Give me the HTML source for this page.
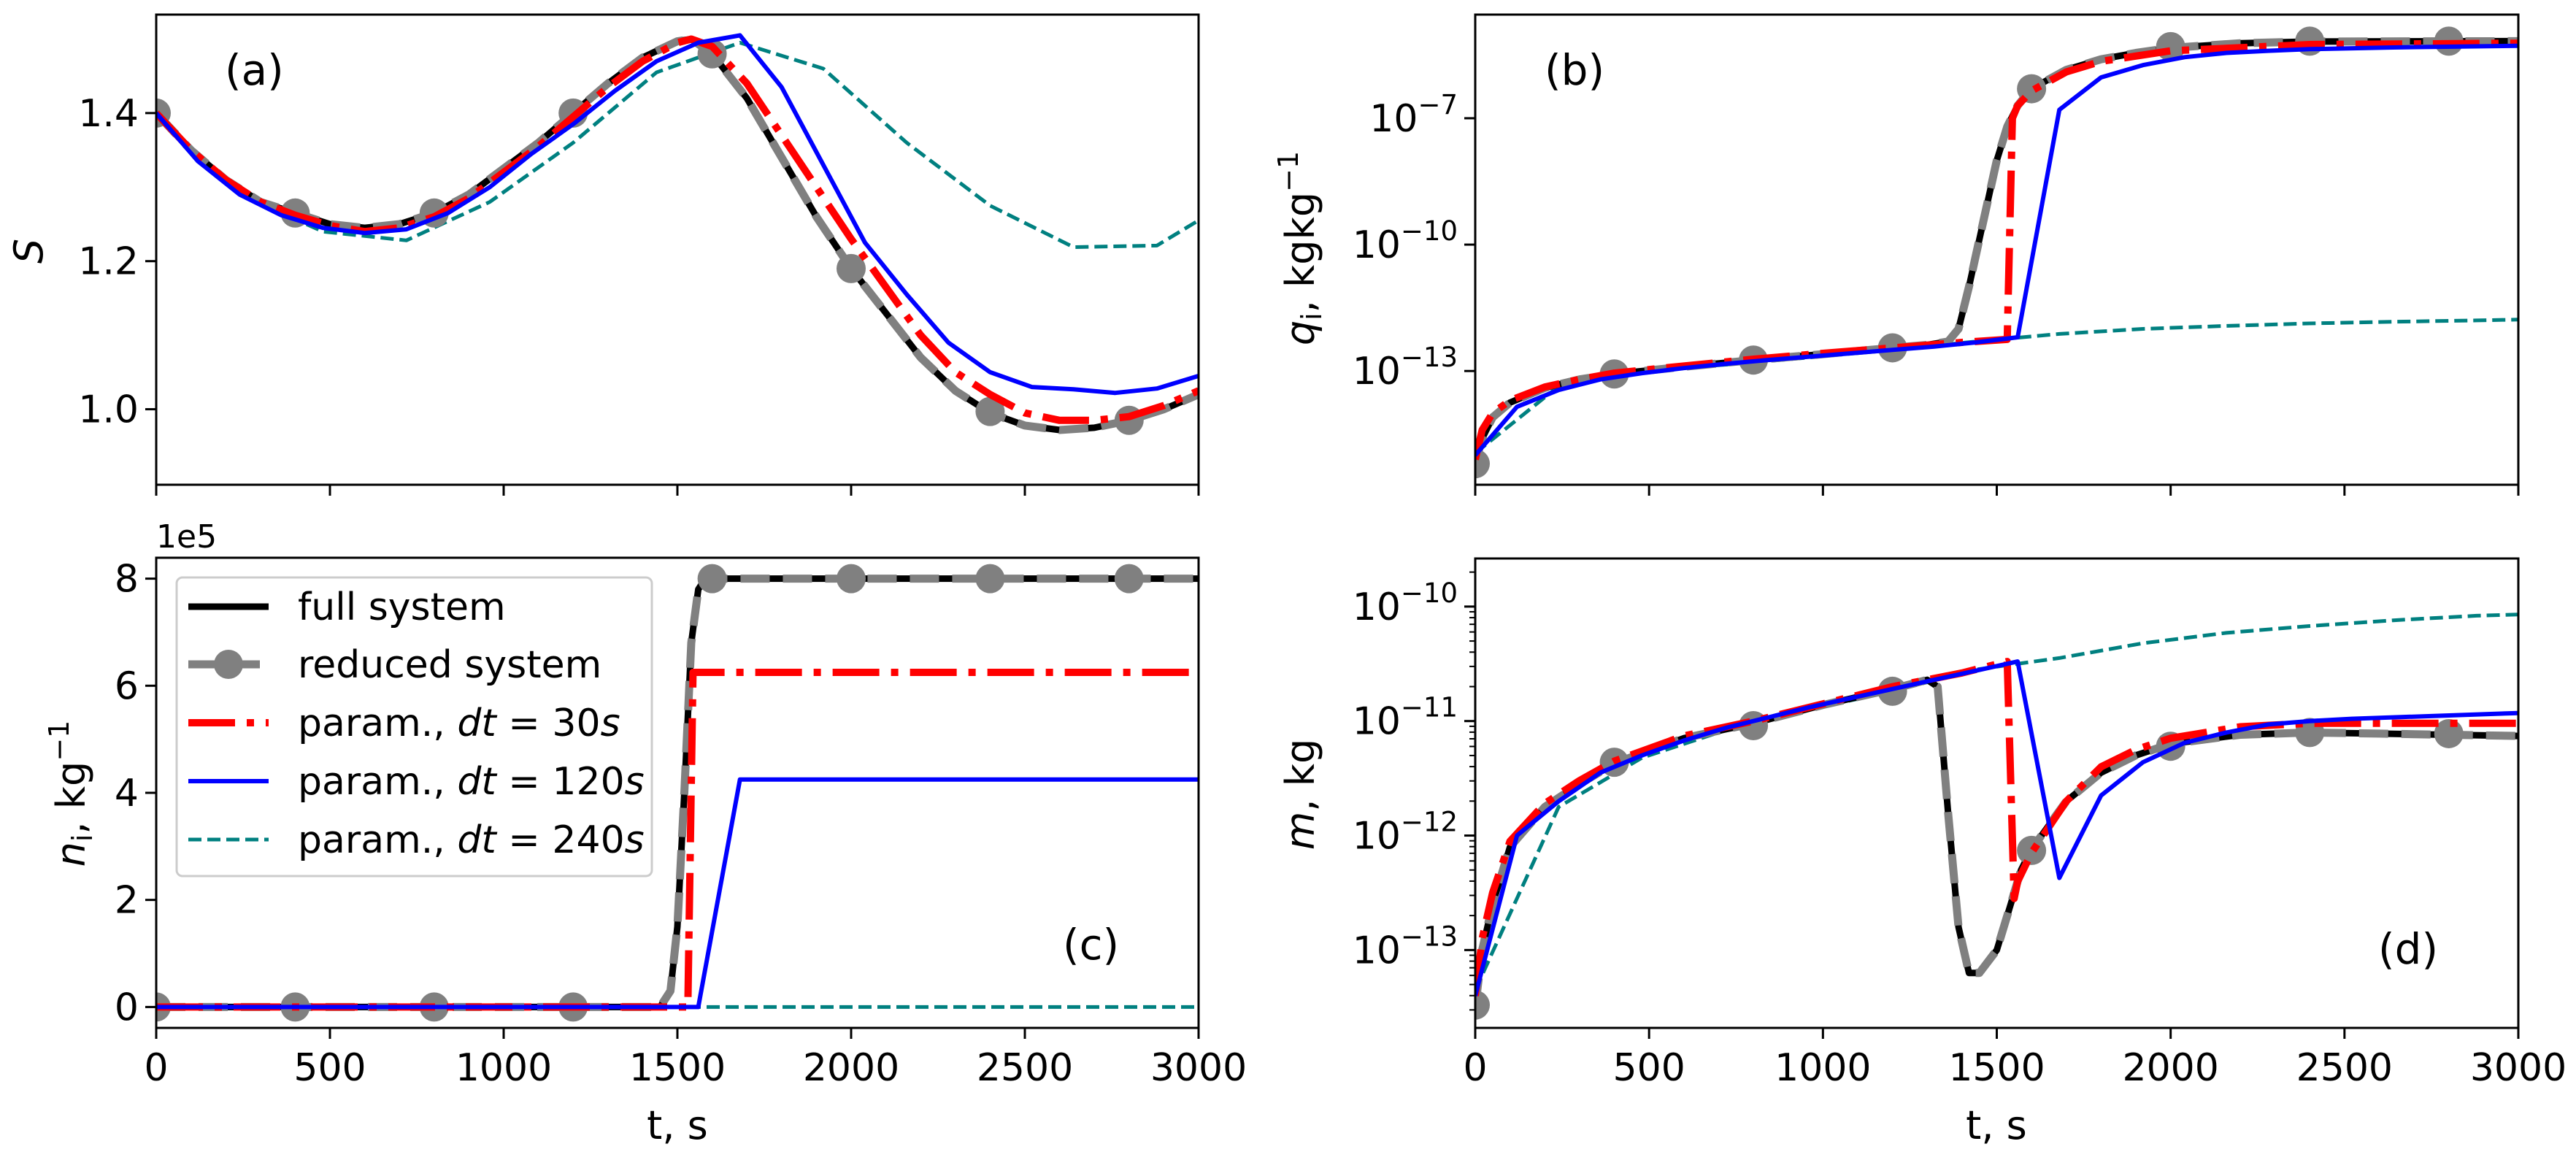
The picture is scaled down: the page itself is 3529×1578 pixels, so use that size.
<!DOCTYPE html>
<html><head><meta charset="utf-8">
<style>
html,body{margin:0;padding:0;background:#fff;}
svg{display:block;font-family:"DejaVu Sans","Liberation Sans",sans-serif;}
</style></head>
<body>
<svg id="fig" xmlns="http://www.w3.org/2000/svg" width="3529" height="1578" viewBox="0 0 3529 1578"></svg>
<script>
// ---------- data ----------
// Panel (a): S
const aFullT = [0,100,200,300,400,500,600,700,800,900,1000,1100,1200,1300,1400,1500,1540,1600,1700,1800,1900,2000,2100,2200,2300,2400,2500,2600,2700,2800,2900,3000];
const aFullV = [1.40,1.35,1.31,1.28,1.265,1.25,1.245,1.25,1.265,1.29,1.325,1.36,1.40,1.44,1.475,1.497,1.50,1.48,1.42,1.34,1.26,1.19,1.13,1.07,1.025,0.995,0.978,0.972,0.975,0.985,1.0,1.02];
const aRedT = [0,100,200,300,400,500,600,700,800,900,1000,1100,1200,1300,1400,1500,1540,1600,1700,1800,1900,2000,2100,2200,2300,2400,2500,2600,2700,2800,2900,3000];
const aRedV = [1.40,1.35,1.31,1.28,1.262,1.248,1.24,1.245,1.26,1.285,1.32,1.355,1.395,1.435,1.47,1.495,1.50,1.49,1.44,1.37,1.30,1.23,1.165,1.10,1.05,1.02,0.995,0.985,0.985,0.99,1.005,1.025];
const aBlueT = [0,120,240,360,480,600,720,840,960,1080,1200,1320,1440,1560,1680,1800,1920,2040,2160,2280,2400,2520,2640,2760,2880,3000];
const aBlueV = [1.40,1.335,1.29,1.262,1.245,1.238,1.243,1.265,1.30,1.345,1.385,1.43,1.47,1.495,1.505,1.435,1.33,1.225,1.155,1.09,1.05,1.03,1.027,1.022,1.028,1.045];
const aTealT = [0,240,480,720,960,1200,1440,1680,1920,2160,2400,2640,2880,3000];
const aTealV = [1.40,1.29,1.24,1.228,1.28,1.36,1.455,1.495,1.46,1.36,1.275,1.219,1.221,1.255];
const aMarkV = [1.40,1.265,1.265,1.40,1.48,1.19,0.997,0.985];
const markT = [0,400,800,1200,1600,2000,2400,2800];

// Panel (b): log10 q_i
const bFullT = [0,20,50,100,200,300,400,600,800,1000,1200,1300,1360,1390,1420,1460,1500,1530,1560,1600,1700,1800,1900,2000,2200,2400,3000];
const bFullV = [-15.2,-14.6,-14.1,-13.75,-13.4,-13.2,-13.07,-12.9,-12.74,-12.6,-12.45,-12.38,-12.3,-12.0,-11.0,-9.5,-8.0,-7.2,-6.7,-6.3,-5.85,-5.6,-5.45,-5.33,-5.22,-5.18,-5.17];
const bRedT = [0,20,50,100,200,300,400,600,800,1000,1200,1400,1530,1545,1560,1600,1700,1800,2000,2400,3000];
const bRedV = [-15.1,-14.4,-14.0,-13.7,-13.38,-13.2,-13.05,-12.88,-12.72,-12.58,-12.45,-12.32,-12.25,-7.0,-6.7,-6.35,-5.9,-5.65,-5.4,-5.25,-5.22];
const bBlueT = [0,120,240,360,480,600,720,840,960,1080,1200,1320,1440,1560,1680,1800,1920,2040,2160,2280,2400,2640,3000];
const bBlueV = [-15.0,-13.85,-13.45,-13.2,-13.05,-12.93,-12.83,-12.74,-12.66,-12.58,-12.5,-12.42,-12.32,-12.2,-6.8,-6.03,-5.74,-5.55,-5.45,-5.4,-5.36,-5.32,-5.28];
const bTealT = [0,240,480,720,960,1200,1440,1680,1920,2160,2400,2640,2880,3000];
const bTealV = [-14.95,-13.36,-13.0,-12.85,-12.68,-12.5,-12.3,-12.12,-12.0,-11.93,-11.87,-11.83,-11.8,-11.78];
const bMarkV = [-15.2,-13.07,-12.74,-12.45,-6.3,-5.3,-5.17,-5.17];

// Panel (c): n_i (units 1e5)
const cFullT = [0,1450,1480,1500,1520,1540,1560,1580,3000];
const cFullV = [0,0,0.3,1.5,4.0,6.8,7.8,8.0,8.0];
const cRedT = [0,1530,1545,3000];
const cRedV = [0,0,6.25,6.25];
const cBlueT = [0,1560,1680,3000];
const cBlueV = [0,0,4.25,4.25];
const cTealT = [0,3000];
const cTealV = [0,0];
const cMarkV = [0,0,0,0,8,8,8,8];

// Panel (d): log10 m
const dFullT = [0,20,50,100,200,300,400,600,800,1000,1200,1300,1330,1360,1390,1420,1450,1500,1540,1570,1600,1700,1800,1900,2000,2200,2400,2600,2800,3000];
const dFullV = [-13.5,-13.0,-12.6,-12.1,-11.75,-11.55,-11.37,-11.15,-11.02,-10.86,-10.72,-10.64,-10.7,-11.8,-12.8,-13.2,-13.2,-13.0,-12.6,-12.3,-12.12,-11.7,-11.45,-11.3,-11.2,-11.12,-11.1,-11.11,-11.12,-11.13];
const dRedT = [0,20,50,100,200,300,400,600,800,1000,1200,1400,1530,1550,1560,1600,1700,1800,1900,2000,2200,2400,3000];
const dRedV = [-13.4,-12.9,-12.5,-12.05,-11.72,-11.52,-11.35,-11.13,-11.0,-10.85,-10.7,-10.58,-10.48,-12.55,-12.4,-12.15,-11.7,-11.4,-11.25,-11.15,-11.05,-11.02,-11.02];
const dBlueT = [0,120,240,360,480,600,720,840,960,1080,1200,1320,1440,1560,1680,1800,1920,2040,2160,2280,2400,2520,3000];
const dBlueV = [-13.4,-12.0,-11.7,-11.45,-11.3,-11.17,-11.06,-10.97,-10.88,-10.8,-10.72,-10.64,-10.56,-10.48,-12.37,-11.65,-11.36,-11.19,-11.1,-11.03,-11.0,-10.98,-10.93];
const dTealT = [0,240,480,720,960,1200,1440,1680,1920,2160,2400,2640,2880,3000];
const dTealV = [-13.35,-11.75,-11.32,-11.08,-10.9,-10.74,-10.55,-10.45,-10.32,-10.23,-10.17,-10.12,-10.08,-10.07];
const dMarkV = [-13.48,-11.36,-11.04,-10.74,-12.13,-11.22,-11.1,-11.11];

const xTicks = [0,500,1000,1500,2000,2500,3000];
const aYTicks = [1.0,1.2,1.4];
const bYTicks = [-13,-10,-7];
const cYTicks = [0,2,4,6,8];
const dYTicks = [-13,-12,-11,-10];

// ---------- drawing ----------
const NS = "http://www.w3.org/2000/svg";
const svg = document.getElementById('fig');
function mk(tag, attrs, parent){
  const e = document.createElementNS(NS, tag);
  for (const k in attrs) e.setAttribute(k, attrs[k]);
  (parent||svg).appendChild(e); return e;
}
function panel(id, x0, x1, y0, y1, ymin, ymax){
  const g = mk('g', {});
  
  
  const clipId = 'clip-' + id;
  const cp = mk('clipPath', {id: clipId}, g);
  mk('rect', {x:x0, y:y0, width:x1-x0, height:y1-y0}, cp);
  const plot = mk('g', {'clip-path': 'url(#' + clipId + ')'}, g);
  
  
  return {g, plot, sx: t => x0 + (t/3000)*(x1-x0), sy: v => y1 - (v-ymin)/(ymax-ymin)*(y1-y0), x0, x1, y0, y1};
}
function line(P, T, V, style, name){
  const d = T.map((t,i)=> (i?'L':'M') + P.sx(t).toFixed(1) + ' ' + P.sy(V[i]).toFixed(1)).join(' ');
  const p = mk('path', Object.assign({d, fill:'none', 'stroke-linejoin':'round'}, style), P.plot);
  
  
}
function markers(P, V, name){
  markT.forEach((t,i)=>{
    const c = mk('circle', {cx:P.sx(t), cy:P.sy(V[i]), r:20, fill:'#808080'}, P.plot);
    
    
  });
}
function series(P, s, id){
  line(P, s.tealT, s.tealV, {stroke:'#008080', 'stroke-width':5, 'stroke-dasharray':'18 8'}, id+'-line-dt240');
  line(P, s.fullT, s.fullV, {stroke:'#000', 'stroke-width':9}, id+'-line-full-system');
  line(P, s.fullT, s.fullV, {stroke:'#808080', 'stroke-width':11, 'stroke-dasharray':'40 18'}, id+'-line-reduced-system');
  markers(P, s.markV, id+'-marker-reduced');
  line(P, s.redT, s.redV, {stroke:'#ff0000', 'stroke-width':10, 'stroke-dasharray':'64 16 10 16'}, id+'-line-dt30');
  line(P, s.blueT, s.blueV, {stroke:'#0000ff', 'stroke-width':6}, id+'-line-dt120');
}
function frame(P, id, showXLabels){
  const r = mk('rect', {x:P.x0, y:P.y0, width:P.x1-P.x0, height:P.y1-P.y0, fill:'none', stroke:'#000', 'stroke-width':3}, P.g);
  
  
  xTicks.forEach(t=>{
    const x = P.sx(t);
    mk('line', {x1:x, x2:x, y1:P.y1, y2:P.y1+15, stroke:'#000', 'stroke-width':3}, P.g);
    if (showXLabels){
      const tx = mk('text', {x:x, y:P.y1+72, 'font-size':52, 'text-anchor':'middle'}, P.g);
      tx.textContent = t;
      
      
    }
  });
}
function yTicksLin(P, ticks, id, fmt){
  ticks.forEach(v=>{
    const y = P.sy(v);
    mk('line', {x1:P.x0-15, x2:P.x0, y1:y, y2:y, stroke:'#000', 'stroke-width':3}, P.g);
    const tx = mk('text', {x:P.x0-24, y:y+18, 'font-size':52, 'text-anchor':'end'}, P.g);
    tx.textContent = fmt(v);
    
    
  });
}
function yTicksLog(P, ticks, id, minor, lo, hi){
  ticks.forEach(v=>{
    const y = P.sy(v);
    mk('line', {x1:P.x0-15, x2:P.x0, y1:y, y2:y, stroke:'#000', 'stroke-width':3}, P.g);
    const tx = mk('text', {x:P.x0-24, y:y+18, 'font-size':52, 'text-anchor':'end'}, P.g);
    
    
    const a = mk('tspan', {}, tx); a.textContent = '10';
    const b = mk('tspan', {dy:-24, 'font-size':37}, tx); b.textContent = '\u2212' + Math.abs(v);
  });
  if (minor){
    for (let d = Math.floor(lo); d < hi; d++){
      for (let k = 2; k <= 9; k++){
        const v = d + Math.log10(k);
        if (v < lo || v > hi) continue;
        const y = P.sy(v);
        mk('line', {x1:P.x0-8, x2:P.x0, y1:y, y2:y, stroke:'#000', 'stroke-width':2}, P.g);
      }
    }
  }
}
function text(x, y, s, size, name, extra){
  const t = mk('text', Object.assign({x, y, 'font-size':size}, extra||{}));
  t.textContent = s;
  
  
  return t;
}

// Panel a
const PA = panel('a', 214, 1642, 20, 664, 0.898, 1.533);
series(PA, {fullT:aFullT, fullV:aFullV, redT:aRedT, redV:aRedV, blueT:aBlueT, blueV:aBlueV, tealT:aTealT, tealV:aTealV, markV:aMarkV}, 'a');
frame(PA, 'a', false);
yTicksLin(PA, aYTicks, 'a', v=>v.toFixed(1));
text(308, 116, '(a)', 58, 'panel-a-label');
text(58, 344, 'S', 54, 'a-y-axis-title', {transform:'rotate(-90 58 344)', 'text-anchor':'middle', 'font-style':'italic'});

// Panel b
const PB = panel('b', 2021, 3450, 20, 664, -15.7, -4.54);
series(PB, {fullT:bFullT, fullV:bFullV, redT:bRedT, redV:bRedV, blueT:bBlueT, blueV:bBlueV, tealT:bTealT, tealV:bTealV, markV:bMarkV}, 'b');
frame(PB, 'b', false);
yTicksLog(PB, bYTicks, 'b', false);
text(2116, 116, '(b)', 58, 'panel-b-label');
{
  const t = text(1800, 340, '', 54, 'b-y-axis-title', {transform:'rotate(-90 1800 340)', 'text-anchor':'middle'});
  const a = mk('tspan', {'font-style':'italic'}, t); a.textContent = 'q';
  const b = mk('tspan', {'font-size':38, dy:10}, t); b.textContent = 'i';
  const c = mk('tspan', {dy:-10}, t); c.textContent = ', kgkg';
  const d = mk('tspan', {'font-size':38, dy:-22}, t); d.textContent = '\u22121';
}

// Panel c
const PC = panel('c', 214, 1642, 764, 1408, -0.39, 8.39);
series(PC, {fullT:cFullT, fullV:cFullV, redT:cRedT, redV:cRedV, blueT:cBlueT, blueV:cBlueV, tealT:cTealT, tealV:cTealV, markV:cMarkV}, 'c');
frame(PC, 'c', true);
yTicksLin(PC, cYTicks, 'c', v=>String(v));
text(214, 750, '1e5', 44, 'c-y-offset-text');
text(1456, 1314, '(c)', 58, 'panel-c-label');
{
  const t = text(116, 1087, '', 54, 'c-y-axis-title', {transform:'rotate(-90 116 1087)', 'text-anchor':'middle'});
  const a = mk('tspan', {'font-style':'italic'}, t); a.textContent = 'n';
  const b = mk('tspan', {'font-size':38, dy:10}, t); b.textContent = 'i';
  const c = mk('tspan', {dy:-10}, t); c.textContent = ', kg';
  const d = mk('tspan', {'font-size':38, dy:-22}, t); d.textContent = '\u22121';
}
text(928, 1560, 't, s', 54, 'c-x-axis-title', {'text-anchor':'middle'});

// Panel d
const PD = panel('d', 2021, 3450, 765, 1408, -13.68, -9.58);
series(PD, {fullT:dFullT, fullV:dFullV, redT:dRedT, redV:dRedV, blueT:dBlueT, blueV:dBlueV, tealT:dTealT, tealV:dTealV, markV:dMarkV}, 'd');
frame(PD, 'd', true);
yTicksLog(PD, dYTicks, 'd', true, -13.68, -9.58);
text(3258, 1320, '(d)', 58, 'panel-d-label');
{
  const t = text(1800, 1088, '', 54, 'd-y-axis-title', {transform:'rotate(-90 1800 1088)', 'text-anchor':'middle'});
  const a = mk('tspan', {'font-style':'italic'}, t); a.textContent = 'm';
  const c = mk('tspan', {}, t); c.textContent = ', kg';
}
text(2735, 1560, 't, s', 54, 'd-x-axis-title', {'text-anchor':'middle'});

// Legend
{
  const g = mk('g', {});
  
  
  mk('rect', {x:242, y:791, width:651, height:409, rx:8, fill:'#fff', 'fill-opacity':0.85, stroke:'#cccccc', 'stroke-width':3}, g);
  const rows = [
    {label:'full system', st:{stroke:'#000','stroke-width':9}},
    {label:'reduced system', st:{stroke:'#808080','stroke-width':11,'stroke-dasharray':'40 18'}, marker:true},
    {label:'param., ', dt:'30', st:{stroke:'#ff0000','stroke-width':10,'stroke-dasharray':'64 16 10 16'}},
    {label:'param., ', dt:'120', st:{stroke:'#0000ff','stroke-width':6}},
    {label:'param., ', dt:'240', st:{stroke:'#008080','stroke-width':5,'stroke-dasharray':'18 8'}}
  ];
  const ys = [831, 910, 990, 1070, 1150];
  rows.forEach((r,i)=>{
    const e = mk('g', {}, g);
    
    
    mk('line', Object.assign({x1:258, x2:368, y1:ys[i], y2:ys[i]}, r.st), e);
    if (r.marker) mk('circle', {cx:313, cy:ys[i], r:20, fill:'#808080'}, e);
    const t = mk('text', {x:408, y:ys[i]+18, 'font-size':52}, e);
    const a = mk('tspan', {}, t); a.textContent = r.label;
    if (r.dt){
      const b = mk('tspan', {'font-style':'italic'}, t); b.textContent = 'dt';
      const c = mk('tspan', {}, t); c.textContent = ' = ' + r.dt;
      const d = mk('tspan', {'font-style':'italic'}, t); d.textContent = 's';
    }
  });
}
</script>
</body></html>
